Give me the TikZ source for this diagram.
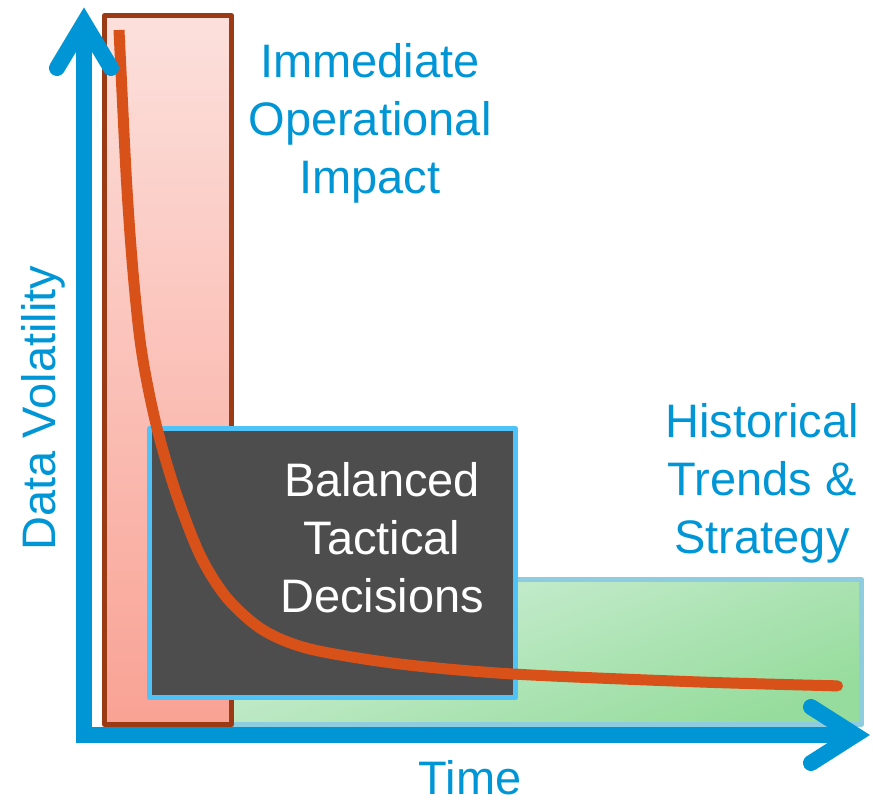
\documentclass[tikz,border=0pt]{standalone}
\usepackage{fontspec}
\setmainfont{Liberation Sans}
\usepackage{xcolor}
\usetikzlibrary{arrows.meta}
\definecolor{axisblue}{HTML}{0096D6}
\definecolor{redtop}{HTML}{FCE0DC}
\definecolor{redbot}{HTML}{F9A294}
\definecolor{rededge}{HTML}{9B3B15}
\definecolor{greentop}{HTML}{CFEFD8}
\definecolor{greenbot}{HTML}{96DC9C}
\definecolor{greenedge}{HTML}{8ECDE0}
\definecolor{darkfill}{HTML}{4D4D4D}
\definecolor{darkedge}{HTML}{4FC3F7}
\definecolor{curvecol}{HTML}{D85119}

\begin{document}
\begin{tikzpicture}[x=1pt,y=-1pt,line join=round,
  axis/.style={line width=16pt,color=axisblue},
  tip/.style={axis,line cap=round,line join=miter},
  lbl/.style={text=axisblue,font=\fontsize{47}{58}\selectfont,align=center,inner sep=0pt}]
\useasboundingbox (0,0) rectangle (873,802);
% zones
\draw[line width=5pt,draw=greenedge,top color=greentop,bottom color=greenbot,shading angle=20] (220,579.5) rectangle (861.5,724.5);
\draw[line width=5pt,draw=rededge,top color=redtop,bottom color=redbot] (104.5,15.5) rectangle (231.5,724.5);
\draw[line width=5pt,draw=darkedge,fill=darkfill] (149.5,428.5) rectangle (515.5,697.5);
% decay curve
\draw[line width=11pt,color=curvecol,{Butt Cap}-{Round Cap}] plot[smooth] coordinates {(119,30) (129,220) (140,340) (155,420) (175,490) (200,555) (227,598) (263,630) (310,649) (400,664) (513,674) (700,682) (843,686)};
% axes
\draw[axis,line join=miter] (84,30) -- (84,735) -- (845,735);
\draw[tip] (57,68) -- (84,23) -- (111,68);
\draw[tip] (811,707) -- (855,735) -- (811,763);
% labels
\node[lbl,anchor=north] (impact) at (370,43) {Immediate\\Operational\\Impact};
\node[lbl,anchor=north] (history) at (762,403) {Historical\\Trends \&\\Strategy};
\node[lbl,anchor=north,text=white] (balanced) at (382,462) {Balanced\\Tactical\\Decisions};
\node[lbl,anchor=base] (time) at (470,794) {Time};
\node[lbl,anchor=base,rotate=90] (volatility) at (55,408) {Data Volatility};
\end{tikzpicture}
\end{document}
